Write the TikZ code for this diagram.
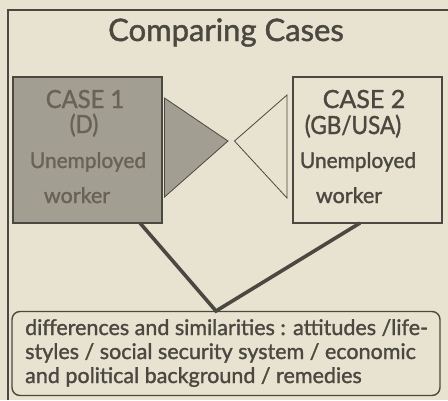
\documentclass[tikz,border=0pt]{standalone}
\usepackage{fontspec}
\setmainfont{Lato}[FakeBold=1.4]
\definecolor{bg}{HTML}{E7E3D0}
\definecolor{ink}{HTML}{4A4841}
\definecolor{dark}{HTML}{A29E91}
\definecolor{darktext}{HTML}{696259}
\tikzset{
  frame/.style={draw=ink, line width=1.6pt},
  casebox/.style={draw=ink, line width=1.6pt, minimum width=149pt, minimum height=146pt, inner sep=0pt},
  txt/.style={anchor=base, inner sep=0pt, text=ink},
  conn/.style={draw=ink, line width=3.6pt},
  tri/.style={draw=ink, line width=0.8pt, line join=miter},
  big/.style={font=\fontsize{25}{28}\selectfont},
  mid/.style={font=\fontsize{21.5}{24}\selectfont},
}
\begin{document}
\begin{tikzpicture}[x=1pt,y=-1pt]
\fill[bg] (0,0) rectangle (448,400);
\useasboundingbox (0,0) rectangle (448,400);
\draw[frame] (448,10) -- (8,10) -- (8,400);
\node[txt, font=\fontsize{31}{34}\selectfont] (title) at (226,41) {Comparing Cases};
% case boxes
\node[casebox, fill=dark] (c1) at (87.5,150) {};
\node[casebox] (c2) at (367.5,150) {};
\node[txt, text=darktext, big] (c1a) at (85,108) {\scalebox{0.95}[1]{CASE 1}};
\node[txt, text=darktext, big] (c1b) at (84,133) {\scalebox{0.9}[1]{(D)}};
\node[txt, text=darktext, mid] (c1c) at (88,168) {\scalebox{0.97}[1]{Unemployed}};
\node[txt, text=darktext, mid] (c1d) at (77,203) {worker};
\node[txt, big] (c2a) at (364,108) {CASE 2};
\node[txt, big] (c2b) at (353,134) {\scalebox{0.9}[1]{(GB/USA)}};
\node[txt, mid] (c2c) at (358,168) {\scalebox{0.97}[1]{Unemployed}};
\node[txt, mid] (c2d) at (349,203) {worker};
% triangles
\filldraw[tri, fill=dark] (164.5,98) -- (228,141) -- (164.5,197) -- cycle;
\draw[tri] (287,95) -- (234.5,141) -- (287,198) -- cycle;
% bottom box
\node[draw=ink, line width=1.4pt, rounded corners=8pt, minimum width=428pt, minimum height=84pt, inner sep=0pt] (res) at (226,353.5) {};
\node[anchor=base west, inner sep=0pt, text=ink, align=left, font=\fontsize{21.5}{24}\selectfont] (restext) at (25,383)
  {differences and similarities : attitudes /life-\\styles / social security system / economic\\and political background / remedies};
% connectors
\coordinate (s1) at (140,223);
\coordinate (s2) at (360,223);
\coordinate (apex) at (216,311);
\draw[conn] (s1) -- (apex) -- (s2);
\end{tikzpicture}
\end{document}
